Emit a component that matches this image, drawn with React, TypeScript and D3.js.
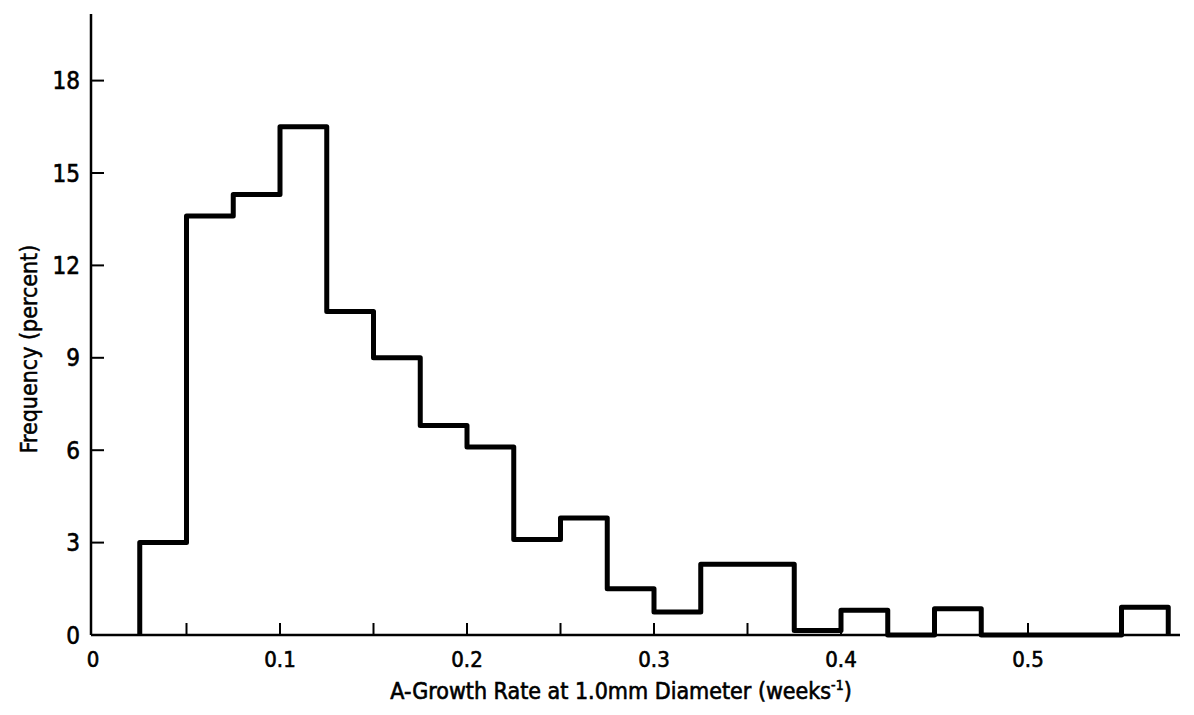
import { useRef, useEffect } from "react";
import * as d3 from "d3";

// bin edges (weeks^-1) and frequency (percent)
const binEdges = [
  0.025, 0.05, 0.075, 0.1, 0.125, 0.15, 0.175, 0.2, 0.225, 0.25, 0.275, 0.3,
  0.325, 0.35, 0.375, 0.4, 0.425, 0.45, 0.475, 0.5, 0.525, 0.55, 0.575,
];
const frequency = [
  3.0, 13.6, 14.3, 16.5, 10.5, 9.0, 6.8, 6.1, 3.1, 3.8, 1.5, 0.75, 2.3, 2.3,
  0.15, 0.8, 0, 0.85, 0, 0, 0, 0.9,
];
const xTicks = [0.05, 0.1, 0.15, 0.2, 0.25, 0.3, 0.35, 0.4, 0.45, 0.5, 0.55];
const xLabels = ["0", "0.1", "0.2", "0.3", "0.4", "0.5"];
const xLabelValues = [0, 0.1, 0.2, 0.3, 0.4, 0.5];
const yTicks = [0, 3, 6, 9, 12, 15, 18];

const FONT = "'DejaVu Sans Condensed', 'Liberation Sans Narrow', 'Liberation Sans', sans-serif";

const App = () => {
  const svgRef = useRef<SVGSVGElement>(null);

  useEffect(() => {
    const svg = d3.select(svgRef.current);
    svg.selectAll("*").remove();

    const x = d3.scaleLinear().domain([0, 0.6]).range([93, 1215]);
    const y = d3.scaleLinear().domain([0, 18]).range([635, 80.6]);
    const axisX = 91;

    // axes lines
    svg
      .append("line")
      .attr("x1", axisX)
      .attr("x2", axisX)
      .attr("y1", 14)
      .attr("y2", y(0))
      .attr("stroke", "#000")
      .attr("stroke-width", 2.5);
    svg
      .append("line")
      .attr("x1", axisX)
      .attr("x2", 1180)
      .attr("y1", y(0))
      .attr("y2", y(0))
      .attr("stroke", "#000")
      .attr("stroke-width", 2.5);

    // y ticks point inward
    svg
      .append("g")
      .selectAll("line")
      .data(yTicks.filter((d) => d > 0))
      .join("line")
      .attr("x1", axisX)
      .attr("x2", axisX + 13)
      .attr("y1", (d) => y(d))
      .attr("y2", (d) => y(d))
      .attr("stroke", "#000")
      .attr("stroke-width", 2);

    svg
      .append("g")
      .selectAll("text")
      .data(yTicks)
      .join("text")
      .attr("x", 80)
      .attr("y", (d) => y(d))
      .attr("dy", "0.36em")
      .attr("text-anchor", "end")
      .style("font-family", FONT)
      .style("font-size", "24px")
      .style("stroke", "#000")
      .style("stroke-width", "0.6px")
      .text((d) => d);

    // x ticks point up
    svg
      .append("g")
      .selectAll("line")
      .data(xTicks)
      .join("line")
      .attr("x1", (d) => x(d))
      .attr("x2", (d) => x(d))
      .attr("y1", y(0))
      .attr("y2", y(0) - 12)
      .attr("stroke", "#000")
      .attr("stroke-width", 2);

    svg
      .append("g")
      .selectAll("text")
      .data(xLabelValues)
      .join("text")
      .attr("x", (d) => x(d))
      .attr("y", 667)
      .attr("text-anchor", "middle")
      .style("font-family", FONT)
      .style("font-size", "22px")
      .style("stroke", "#000")
      .style("stroke-width", "0.6px")
      .text((d, i) => xLabels[i]);

    // histogram outline
    const pts: [number, number][] = [[binEdges[0], 0]];
    frequency.forEach((v, i) => {
      pts.push([binEdges[i], v]);
      pts.push([binEdges[i + 1], v]);
    });
    pts.push([binEdges[binEdges.length - 1], 0]);

    svg
      .append("path")
      .datum(pts)
      .attr("fill", "none")
      .attr("stroke", "#000")
      .attr("stroke-width", 5)
      .attr("stroke-linejoin", "round")
      .attr(
        "d",
        d3
          .line<[number, number]>()
          .x((d) => x(d[0]))
          .y((d) => y(d[1]))
      );

    // axis titles
    const title = svg
      .append("text")
      .attr("x", 621)
      .attr("y", 699)
      .attr("text-anchor", "middle")
      .style("font-family", FONT)
      .style("font-size", "23px")
      .style("stroke", "#000")
      .style("stroke-width", "0.6px");
    title.append("tspan").text("A-Growth Rate at 1.0mm Diameter (weeks");
    title
      .append("tspan")
      .attr("dy", -9)
      .style("font-size", "14px")
      .text("-1");
    title.append("tspan").attr("dy", 9).text(")");

    svg
      .append("text")
      .attr("transform", "translate(37,349) rotate(-90)")
      .attr("text-anchor", "middle")
      .style("font-family", FONT)
      .style("font-size", "23px")
      .style("stroke", "#000")
      .style("stroke-width", "0.5px")
      .text("Frequency (percent)");
  }, []);

  return (
    <svg
      ref={svgRef}
      width={1194}
      height={715}
      style={{ position: "absolute", left: 0, top: 0, background: "#fff" }}
    />
  );
};

export default App;
